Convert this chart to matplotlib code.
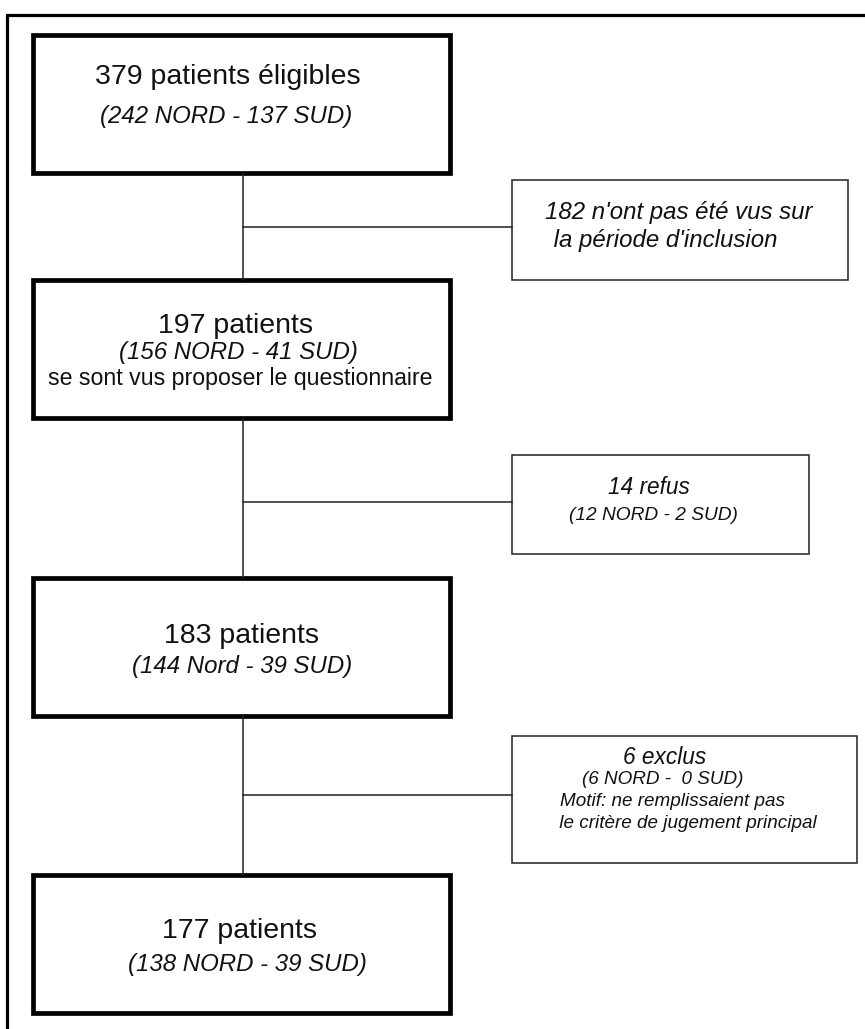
import matplotlib.pyplot as plt
from matplotlib.patches import Rectangle

plt.rcParams["font.family"] = ["Liberation Sans", "DejaVu Sans"]

# contenu des boites principales
main_titles = ["379 patients éligibles", "197 patients", "183 patients", "177 patients"]
main_subtitles = ["(242 NORD - 137 SUD)", "(156 NORD - 41 SUD)",
                  "(144 Nord - 39 SUD)", "(138 NORD - 39 SUD)"]
main_extra = ["", "se sont vus proposer le questionnaire", "", ""]

# boites laterales (exclusions)
side_lines = [
    ["182 n'ont pas été vus sur", " la période d'inclusion"],
    ["14 refus", "(12 NORD - 2 SUD)"],
    ["6 exclus", "(6 NORD -  0 SUD)", "Motif: ne remplissaient pas",
     " le critère de jugement principal"],
]

# mise en page (pixels)
main_x0, main_x1 = 33, 450
main_boxes = [(35, 173), (280, 418), (578, 716), (875, 1013)]
main_text_x = [(228, 226, 0), (236, 238, 240), (241, 242, 0), (240, 247, 0)]
main_text_y = [(77, 117, 0), (326, 353, 378), (636, 667, 0), (931, 965, 0)]

side_boxes = [(512, 848, 180, 280), (512, 809, 455, 554), (512, 857, 736, 863)]
side_conn_y = [227, 502, 795]
side_text = [
    [(679, 213, 17.3), (662, 241, 17.3)],
    [(649, 488, 16.3), (653, 515, 13.8)],
    [(665, 757, 16.3), (663, 780, 13.6), (672, 801, 13.6), (685, 823, 13.6)],
]
trunk_x = 243

fig = plt.figure(figsize=(8.65, 10.29), dpi=100)
ax = fig.add_axes([0, 0, 1, 1])
ax.set_xlim(0, 865)
ax.set_ylim(1029, 0)
ax.axis("off")

# cadre exterieur
ax.plot([7, 7, 870], [1035, 15, 15], color="black", lw=2.3, solid_joinstyle="miter")

# lignes de connexion
for (t0, b0), (t1, b1) in zip(main_boxes[:-1], main_boxes[1:]):
    ax.plot([trunk_x, trunk_x], [b0, t1], color="#222222", lw=1.1)
for y, (sx0, sx1, sy0, sy1) in zip(side_conn_y, side_boxes):
    ax.plot([trunk_x, sx0], [y, y], color="#222222", lw=1.1)

# boites principales
for (top, bot), title, sub, extra, xs, ys in zip(main_boxes, main_titles, main_subtitles,
                                                 main_extra, main_text_x, main_text_y):
    ax.add_patch(Rectangle((main_x0, top), main_x1 - main_x0, bot - top,
                           facecolor="white", edgecolor="black", lw=3.4, joinstyle="miter"))
    ax.text(xs[0], ys[0], title, ha="center", va="center", fontsize=20.5, color="#111111")
    ax.text(xs[1], ys[1], sub, ha="center", va="center", fontsize=17.3,
            style="italic", color="#111111")
    if extra:
        ax.text(xs[2], ys[2], extra, ha="center", va="center", fontsize=16.7, color="#111111")

# boites laterales
for (sx0, sx1, sy0, sy1), lines, pos in zip(side_boxes, side_lines, side_text):
    ax.add_patch(Rectangle((sx0, sy0), sx1 - sx0, sy1 - sy0,
                           facecolor="white", edgecolor="#222222", lw=1.1))
    for txt, (x, y, fs) in zip(lines, pos):
        ax.text(x, y, txt, ha="center", va="center", fontsize=fs,
                style="italic", color="#111111")

fig.savefig("out.png", dpi=100)
